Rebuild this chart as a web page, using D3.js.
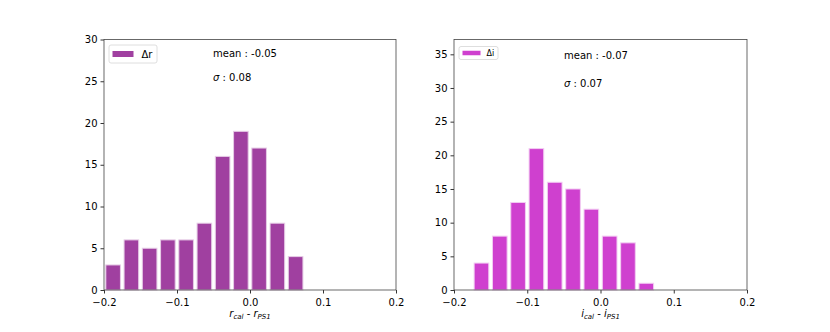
<!DOCTYPE html>
<html>
<head>
<meta charset="utf-8">
<script src="https://cdn.jsdelivr.net/npm/d3@7"></script>
<style>
  body { margin: 0; background: #fff; }
  svg text { font-family: "DejaVu Sans", sans-serif; }
</style>
</head>
<body>
<div id="chart"></div>
<script>
// ---- data ----
const binWidth = 0.025;
const rBinStart = -0.2;
const rCounts = [3, 6, 5, 6, 6, 8, 16, 19, 17, 8, 4];
const iBinStart = -0.175;
const iCounts = [4, 8, 13, 21, 16, 15, 12, 8, 7, 1];
const xTicks = [-0.2, -0.1, 0.0, 0.1, 0.2];
const rYTicks = [0, 5, 10, 15, 20, 25, 30];
const iYTicks = [0, 5, 10, 15, 20, 25, 30, 35];

const W = 830, H = 332;
const svg = d3.select('#chart').append('svg').attr('width', W).attr('height', H);

function fmtTick(v) {
  const s = v.toFixed(1);
  return s.replace('-', '\u2212');
}

function panel(opt) {
  const g = svg.append('g');
  const x = d3.scaleLinear().domain([-0.2, 0.2]).range([opt.left, opt.right]);
  const y = d3.scaleLinear().domain([0, opt.yMax]).range([290, 39.5]);

  // bars (rwidth 0.8)
  const bars = opt.counts.map((c, k) => ({ x0: opt.start + k * binWidth, c }));
  g.selectAll('rect.bar').data(bars).enter().append('rect')
    .attr('class', 'bar')
    .attr('x', d => x(d.x0 + 0.1 * binWidth))
    .attr('width', d => x(d.x0 + 0.9 * binWidth) - x(d.x0 + 0.1 * binWidth))
    .attr('y', d => y(d.c))
    .attr('height', d => y(0) - y(d.c))
    .attr('fill', opt.color)
    .attr('stroke', opt.edge)
    .attr('stroke-width', 1);

  // axes
  g.append('g').attr('transform', 'translate(0,290)')
    .call(d3.axisBottom(x).tickValues(xTicks).tickFormat(fmtTick).tickSizeOuter(0).tickSize(3.5))
    .call(a => a.select('.domain').remove())
    .call(a => a.selectAll('text').attr('font-size', 10).attr('fill', '#000').attr('dy', '0.9em'))
    .call(a => a.selectAll('line').attr('stroke', '#000').attr('stroke-width', 0.8));
  g.append('g').attr('transform', `translate(${opt.left},0)`)
    .call(d3.axisLeft(y).tickValues(opt.yTicks).tickSizeOuter(0).tickSize(3.5))
    .call(a => a.select('.domain').remove())
    .call(a => a.selectAll('text').attr('font-size', 10).attr('fill', '#000'))
    .call(a => a.selectAll('line').attr('stroke', '#000').attr('stroke-width', 0.8));

  // frame
  g.append('rect')
    .attr('x', opt.left).attr('y', 39.5)
    .attr('width', opt.right - opt.left).attr('height', 290 - 39.5)
    .attr('fill', 'none').attr('stroke', '#444').attr('stroke-width', 0.8);

  // legend
  const lg = opt.legend;
  g.append('rect')
    .attr('x', lg.x).attr('y', lg.y).attr('width', lg.w).attr('height', lg.h)
    .attr('rx', 2).attr('fill', '#fff').attr('fill-opacity', 0.8)
    .attr('stroke', '#d6d6d6').attr('stroke-width', 0.8);
  g.append('rect')
    .attr('x', lg.x + 3.5).attr('y', lg.y + lg.h / 2 - lg.ph / 2)
    .attr('width', lg.pw).attr('height', lg.ph)
    .attr('fill', opt.color);
  g.append('text')
    .attr('x', lg.x + 3.5 + lg.pw + lg.gap).attr('y', lg.y + lg.h / 2)
    .attr('dy', '0.35em').attr('font-size', lg.fs)
    .text(opt.label);

  // stats text
  g.append('text').attr('x', opt.textX).attr('y', opt.meanY)
    .attr('font-size', 10).text(opt.mean);
  const s = g.append('text').attr('x', opt.textX).attr('y', opt.sigY).attr('font-size', 10);
  s.append('tspan').attr('font-style', 'italic').text('\u03c3');
  s.append('tspan').text(' : ' + opt.sigma);

  // x label
  const cx = (opt.left + opt.right) / 2;
  const t = g.append('text').attr('x', cx).attr('y', 317)
    .attr('text-anchor', 'middle').attr('font-size', 10).attr('font-style', 'italic');
  t.append('tspan').text(opt.sym);
  t.append('tspan').attr('font-size', 7).attr('dy', 2).text('cal');
  t.append('tspan').attr('font-style', 'normal').attr('dy', -2).text(' - ');
  t.append('tspan').text(opt.sym);
  t.append('tspan').attr('font-size', 7).attr('dy', 2).text('PS1');
}

panel({
  left: 104, right: 396, yMax: 30, yTicks: rYTicks,
  counts: rCounts, start: rBinStart,
  color: '#a040a0', edge: '#e6cce6',
  label: '\u0394r',
  legend: { x: 109, y: 45, w: 48, h: 18, pw: 21, ph: 6, gap: 8, fs: 10 },
  textX: 213, meanY: 57, sigY: 81,
  mean: 'mean : -0.05', sigma: '0.08', sym: 'r'
});

panel({
  left: 454, right: 747, yMax: 37.2, yTicks: iYTicks,
  counts: iCounts, start: iBinStart,
  color: '#cf40cf', edge: '#f2ccf2',
  label: '\u0394i',
  legend: { x: 459, y: 46.5, w: 39, h: 13, pw: 18, ph: 4.5, gap: 6, fs: 8 },
  textX: 564, meanY: 59, sigY: 87,
  mean: 'mean : -0.07', sigma: '0.07', sym: 'i'
});
</script>
</body>
</html>
